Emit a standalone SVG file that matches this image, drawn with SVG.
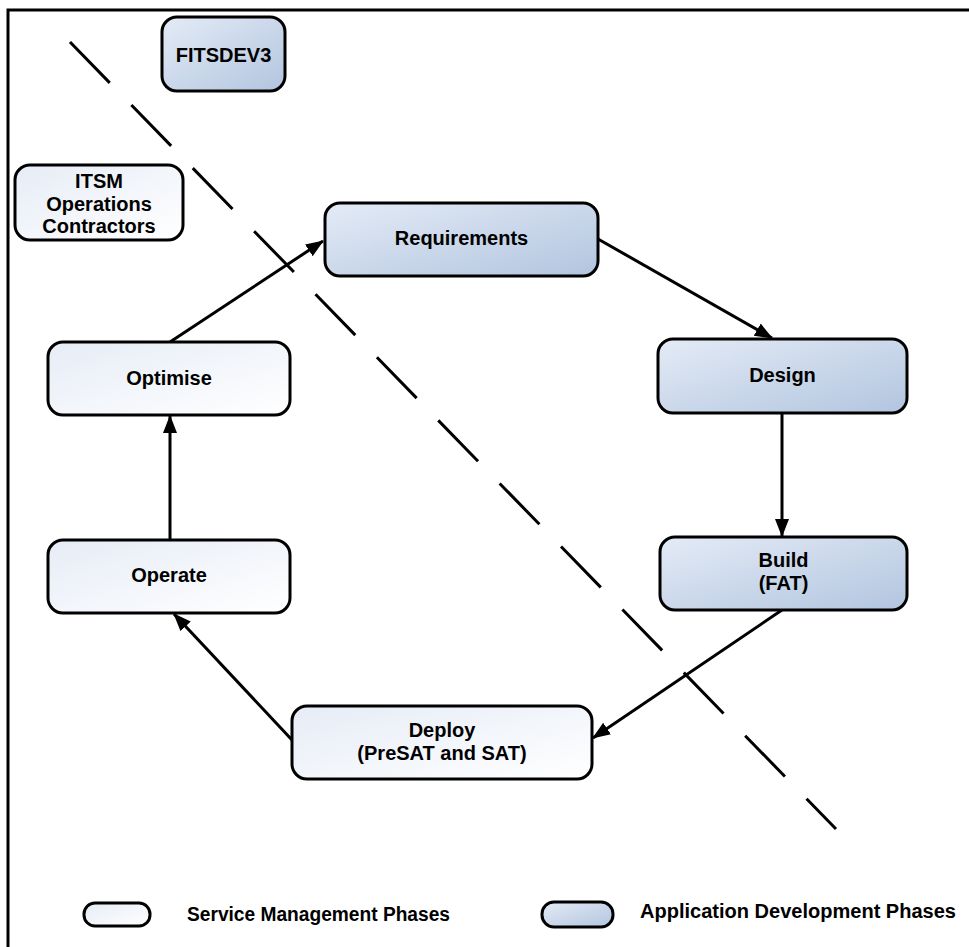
<svg xmlns="http://www.w3.org/2000/svg" width="969" height="947" viewBox="0 0 969 947">
<style>
.box{stroke:#000;stroke-width:3}
.sm{fill:url(#gSM)}
.ad{fill:url(#gAD)}
.t{font-family:"Liberation Sans",Arial,sans-serif;font-weight:bold;font-size:20px;fill:#000;text-anchor:middle}
.lg{font-family:"Liberation Sans",Arial,sans-serif;font-weight:bold;font-size:20px;fill:#000}
.c{stroke:#000;stroke-width:3;fill:none;marker-end:url(#arr)}
</style>
<defs>
<linearGradient id="gSM" x1="0" y1="0" x2="1" y2="1">
<stop offset="0" stop-color="#e6ecf6"/>
<stop offset="1" stop-color="#ffffff"/>
</linearGradient>
<linearGradient id="gAD" x1="0" y1="0" x2="1" y2="1">
<stop offset="0" stop-color="#e4ebf6"/>
<stop offset="1" stop-color="#b2c5df"/>
</linearGradient>
<marker id="arr" markerUnits="userSpaceOnUse" markerWidth="20" markerHeight="16" refX="17" refY="7" orient="auto">
<path d="M0,0 L18,7 L0,14 Z" fill="#000"/>
</marker>
</defs>
<rect width="969" height="947" fill="#fff"/>
<path d="M8,960 L8,10 L980,10" fill="none" stroke="#000" stroke-width="3"/>
<line x1="70" y1="42" x2="836" y2="829" stroke="#000" stroke-width="3" stroke-dasharray="57 31"/>
<g id="connectors">
<line class="c" x1="170" y1="342" x2="323" y2="241"/>
<line class="c" x1="598" y1="239" x2="772" y2="338"/>
<line class="c" x1="782" y1="413" x2="782" y2="536"/>
<line class="c" x1="782" y1="610" x2="593" y2="738"/>
<line class="c" x1="292" y1="740" x2="174" y2="614"/>
<line class="c" x1="170" y1="540" x2="170" y2="416"/>
</g>
<g id="fitsdev3">
<rect class="box ad" x="162" y="17" width="123" height="74" rx="15"/>
<text class="t" x="223.5" y="61.5">FITSDEV3</text>
</g>
<g id="itsm">
<rect class="box sm" x="15" y="165" width="168" height="75" rx="15"/>
<text class="t" x="99" y="188">ITSM</text>
<text class="t" x="99" y="210.5">Operations</text>
<text class="t" x="99" y="233">Contractors</text>
</g>
<g id="requirements">
<rect class="box ad" x="325" y="203" width="273" height="73" rx="15"/>
<text class="t" x="461.5" y="245">Requirements</text>
</g>
<g id="design">
<rect class="box ad" x="658" y="339" width="249" height="74" rx="15"/>
<text class="t" x="782.5" y="382">Design</text>
</g>
<g id="build">
<rect class="box ad" x="660" y="537" width="247" height="73" rx="15"/>
<text class="t" x="783.5" y="567">Build</text>
<text class="t" x="783.5" y="590">(FAT)</text>
</g>
<g id="deploy">
<rect class="box sm" x="292" y="706" width="300" height="73" rx="15"/>
<text class="t" x="442" y="737">Deploy</text>
<text class="t" x="442" y="760">(PreSAT and SAT)</text>
</g>
<g id="operate">
<rect class="box sm" x="48" y="540" width="242" height="73" rx="15"/>
<text class="t" x="169" y="582">Operate</text>
</g>
<g id="optimise">
<rect class="box sm" x="48" y="342" width="242" height="73" rx="15"/>
<text class="t" x="169" y="385">Optimise</text>
</g>
<g id="legend-sm">
<rect class="box sm" x="84" y="903" width="66" height="23" rx="11"/>
<text class="lg" x="187" y="921" textLength="263" lengthAdjust="spacingAndGlyphs">Service Management Phases</text>
</g>
<g id="legend-ad">
<rect class="box ad" x="542" y="902" width="71" height="25" rx="12"/>
<text class="lg" x="640" y="918" textLength="316" lengthAdjust="spacingAndGlyphs">Application Development Phases</text>
</g>
</svg>
